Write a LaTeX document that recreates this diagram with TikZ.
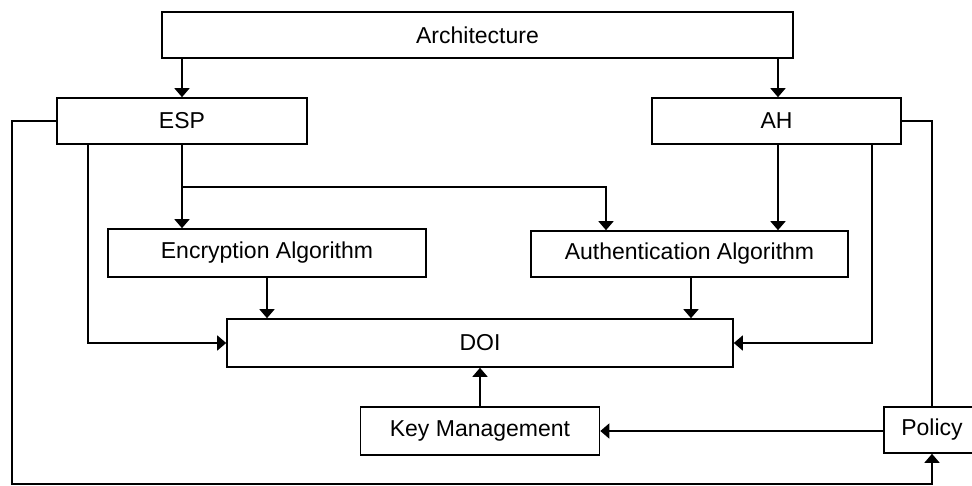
\documentclass[tikz,border=0pt]{standalone}
\usepackage{fontspec}
\setmainfont{Liberation Sans}
\usetikzlibrary{arrows.meta}

\begin{document}
\begin{tikzpicture}
    [x=1pt, y=-1pt, line width=1.6pt,
     block/.style={draw, rectangle, inner sep=0pt,
       font=\fontsize{23}{27}\selectfont},
     tip/.style={-{Triangle[width=15pt,length=9pt]}}]
    \useasboundingbox (0,0) rectangle (972,485);

    \node[block, minimum width=631pt, minimum height=46pt] (arch) at (477.5,35) {Architecture};
    \node[block, minimum width=250pt, minimum height=46pt] (esp) at (182,121) {ESP};
    \node[block, minimum width=249pt, minimum height=46pt] (ah) at (776.5,121) {AH};
    \node[block, minimum width=318pt, minimum height=48pt] (enc) at (267,253) {Encryption Algorithm};
    \node[block, minimum width=317pt, minimum height=46pt] (auth) at (689.5,254) {Authentication Algorithm};
    \node[block, minimum width=506pt, minimum height=48pt] (doi) at (480,343) {DOI};
    \node[block, minimum width=239pt, minimum height=48pt] (km) at (480,431) {Key Management};
    \node[block, minimum width=96pt, minimum height=46pt] (policy) at (932,430) {Policy};

    \coordinate (split) at (182,187);
    \coordinate (corner) at (12,484);

    % from the top
    \draw[tip] (arch.south -| esp) -- (esp);
    \draw[tip] ([xshift=1.5pt]arch.south -| ah) -- ([xshift=1.5pt]ah.north);

    % ESP side
    \draw[tip] (esp) -- (enc.north -| esp);
    \draw[tip] (split) -| ([xshift=-83.5pt]auth.north);
    \draw[tip] ([xshift=-94pt]esp.south) |- (doi.west);
    \draw[tip] (esp.west) -| (corner) -| (policy.south);

    % AH side
    \draw[tip] ([xshift=1.5pt]ah.south) -- ([xshift=1.5pt]auth.north -| ah);
    \draw[tip] ([xshift=95.5pt]ah.south) |- (doi.east);
    \draw (ah.east) -| (policy.north);

    % into DOI
    \draw[tip] (enc) -- (doi.north -| enc);
    \draw[tip] ([xshift=1.5pt]auth.south) -- ([xshift=1.5pt]doi.north -| auth);
    \draw[tip] (km) -- (doi);
    \draw[tip] (policy.west |- km) -- (km);
\end{tikzpicture}
\end{document}
